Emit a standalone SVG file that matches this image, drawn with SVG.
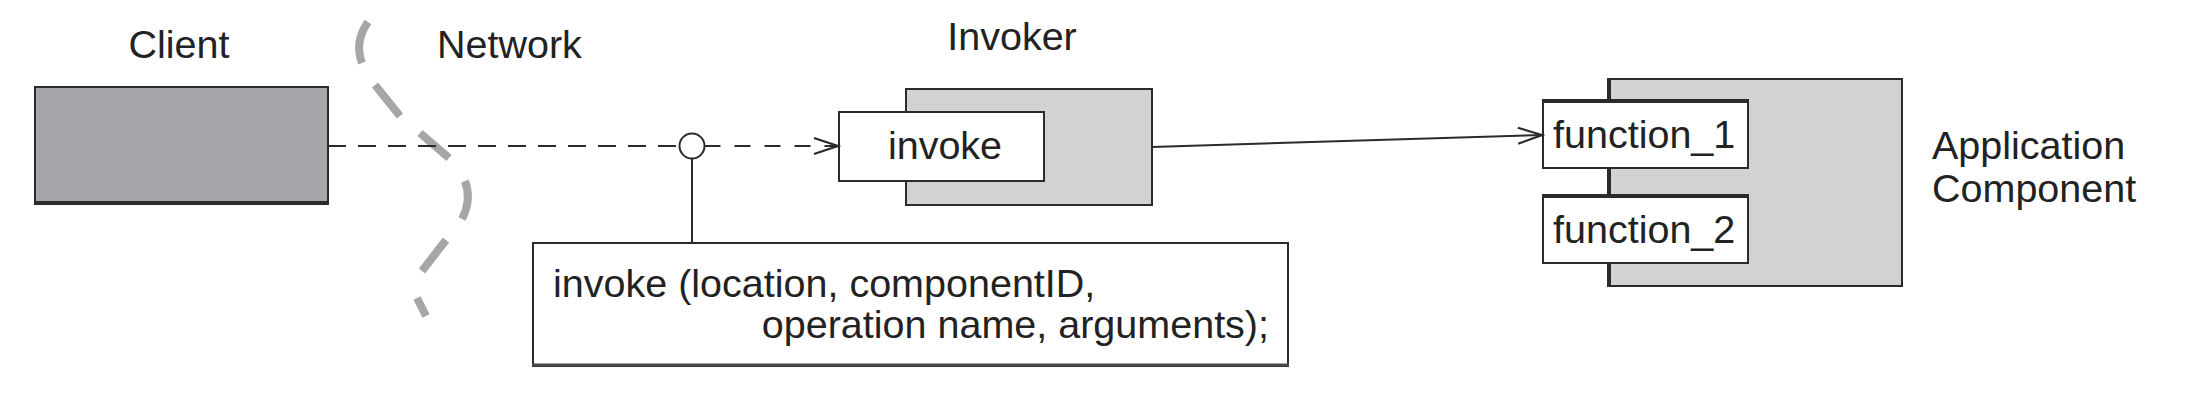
<svg xmlns="http://www.w3.org/2000/svg" width="2200" height="400" viewBox="0 0 2200 400">
  <style>
    text { font-family: "Liberation Sans", Arial, sans-serif; font-size: 39.5px; fill: #222; }
    .box { stroke: #2b2b2b; stroke-width: 2; }
    .dark { fill: #a6a7aa; }
    .light { fill: #d1d2d4; }
    .white { fill: #fff; }
    .edge { stroke: #2b2b2b; stroke-width: 4; fill: none; }
    .net { stroke: #a6a6a6; stroke-width: 8; fill: none; stroke-linecap: butt; }
    .conn { stroke: #2b2b2b; stroke-width: 2; fill: none; }
    .dash { stroke-dasharray: 18 12; }
  </style>
  <defs>
    <marker id="open" markerUnits="userSpaceOnUse" markerWidth="30" markerHeight="22" refX="25" refY="9" orient="auto">
      <path d="M1,1 L25,9 L1,17" fill="none" stroke="#2b2b2b" stroke-width="2.2"/>
    </marker>
  </defs>

  <g id="client">
    <rect class="box dark" x="35" y="87" width="293" height="117"/>
    <line class="edge" x1="34" y1="203" x2="329" y2="203"/>
    <text x="179" y="58" text-anchor="middle">Client</text>
  </g>

  <g id="network">
    <path class="net" d="M368 22 Q354 42 362 63"/>
    <path class="net" d="M375 85 L400 116"/>
    <path class="net" d="M420 133 L449 158"/>
    <path class="net" d="M465 181 Q472 200 462 219"/>
    <path class="net" d="M446 240 L422 271"/>
    <path class="net" d="M417 298 L426 316"/>
    <text x="437" y="58">Network</text>
  </g>

  <g id="invoker">
    <rect class="box light" x="906" y="89" width="246" height="116"/>
    <rect class="box white" x="839" y="112" width="205" height="69"/>
    <text x="945" y="159" text-anchor="middle">invoke</text>
    <text x="1012" y="50" text-anchor="middle">Invoker</text>
  </g>

  <g id="note">
    <rect class="box white" x="533" y="243" width="755" height="123"/>
    <line x1="532" y1="365" x2="1289" y2="365" stroke="#4a4a4a" stroke-width="3"/>
    <text x="553" y="297">invoke (location, componentID,</text>
    <text x="1269" y="338" text-anchor="end">operation name, arguments);</text>
  </g>

  <g id="app-component">
    <rect class="box light" x="1608" y="79" width="294" height="207"/>
    <line class="edge" x1="1609" y1="79" x2="1609" y2="287"/>
    <rect class="box white" x="1543" y="100" width="205" height="68"/>
    <line class="edge" x1="1542" y1="101" x2="1749" y2="101"/>
    <rect class="box white" x="1543" y="195" width="205" height="68"/>
    <line class="edge" x1="1542" y1="196" x2="1749" y2="196"/>
    <text x="1553" y="148">function_1</text>
    <text x="1553" y="243">function_2</text>
    <text x="1932" y="159">Application</text>
    <text x="1932" y="202">Component</text>
  </g>

  <g id="connectors">
    <line class="conn dash" x1="328" y1="146" x2="679.5" y2="146"/>
    <circle cx="692" cy="146" r="12.5" fill="#fff" stroke="#2b2b2b" stroke-width="2"/>
    <line class="conn" x1="692" y1="158.5" x2="692" y2="243"/>
    <line class="conn" x1="704.5" y1="146" x2="838" y2="146" stroke-dasharray="16 14" marker-end="url(#open)"/>
    <line class="conn" x1="1152" y1="147" x2="1542" y2="135" marker-end="url(#open)"/>
  </g>
</svg>
